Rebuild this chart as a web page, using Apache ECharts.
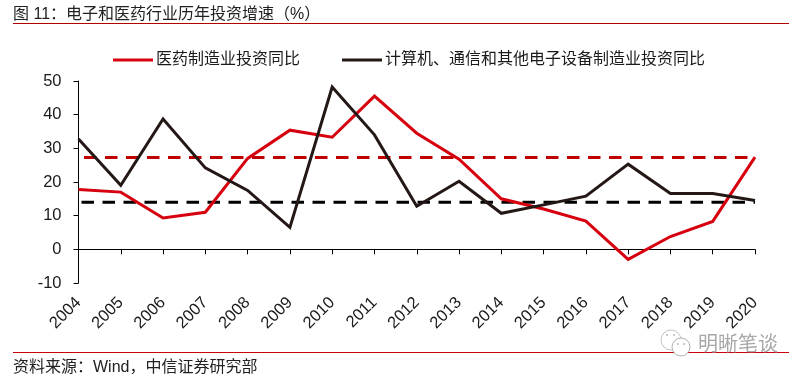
<!DOCTYPE html>
<html><head><meta charset="utf-8">
<style>html,body{margin:0;padding:0;background:#fff}#c{width:803px;height:379px}</style>
<script src="https://cdn.jsdelivr.net/npm/echarts@6/dist/echarts.min.js"></script>
</head><body><div id="c"></div>
<script>
const years=['2004','2005','2006','2007','2008','2009','2010','2011','2012','2013','2014','2015','2016','2017','2018','2019','2020'];
const pharma=[17.8,17,9.3,11,27,35.4,33.3,45.5,34.5,26.8,15,12,8.4,-3,3.8,8.3,27.4];
const electronics=[32.8,19,38.7,24.2,17.5,6.5,48.2,34,12.8,20.2,10.7,13.2,15.8,25.3,16.6,16.6,14.5];
const pharmaAvg=years.map(()=>27.3);
const electronicsAvg=years.map(()=>14);
const pharmaName='医药制造业投资同比';
const electronicsName='计算机、通信和其他电子设备制造业投资同比';
const titleText='图 11\uFF1A电子和医药行业历年投资增速\uFF08%\uFF09';
const sourceText='资料来源\uFF1AWind\uFF0C中信证券研究部';
const wmText='明晰笔谈';
const cjk='"Liberation Sans","Noto Sans CJK SC",sans-serif';
const chart=echarts.init(document.getElementById('c'),null,{renderer:'canvas'});
chart.setOption({
 animation:false,
 backgroundColor:'#fff',
 grid:{left:78.5,right:48,top:81,bottom:96,containLabel:false},
 legend:{top:47,left:108,itemGap:42,itemWidth:40,itemHeight:3,icon:'rect',
  textStyle:{fontFamily:cjk,fontSize:16,color:'#1a1a1a',padding:[0,0,0,-2]},
  data:[pharmaName,electronicsName]},
 xAxis:{type:'category',data:years,boundaryGap:false,
  axisLine:{onZero:true,lineStyle:{color:'#000',width:1}},
  axisTick:{show:true,length:5,inside:false,lineStyle:{color:'#000',width:1}},
  axisLabel:{rotate:45,margin:17,fontFamily:'"Liberation Sans",sans-serif',fontSize:16.5,color:'#1a1a1a',interval:0,hideOverlap:false}},
 yAxis:{type:'value',min:-10,max:50,interval:10,splitLine:{show:false},
  axisLine:{show:true,onZero:false,lineStyle:{color:'#000',width:1}},
  axisTick:{show:true,length:5,inside:false,lineStyle:{color:'#000',width:1}},
  axisLabel:{margin:17,fontFamily:'"Liberation Sans",sans-serif',fontSize:16.5,color:'#1a1a1a'}},
 series:[
  {name:'医药均值',type:'line',data:pharmaAvg,symbol:'none',silent:true,z:2,
   lineStyle:{color:'#c00000',width:3,type:[12.5,8.5],dashOffset:15.5}},
  {name:'电子均值',type:'line',data:electronicsAvg,symbol:'none',silent:true,z:2,
   lineStyle:{color:'#000',width:3,type:[12.5,8.5],dashOffset:18}},
  {name:pharmaName,type:'line',data:pharma,symbol:'none',z:3,itemStyle:{color:'#d7000f'},
   lineStyle:{color:'#d7000f',width:3,join:'miter'}},
  {name:electronicsName,type:'line',data:electronics,symbol:'none',z:4,itemStyle:{color:'#231815'},
   lineStyle:{color:'#231815',width:3,join:'miter'}}
 ],
 graphic:[
  {type:'text',left:13,top:7,style:{text:titleText,font:'16px '+cjk,fill:'#222'}},
  {type:'rect',shape:{x:13,y:23,width:776,height:1},style:{fill:'#b00000'}},
  {type:'rect',shape:{x:13,y:352,width:776,height:1},style:{fill:'#c8000a'}},
  {type:'text',left:13,top:360,style:{text:sourceText,font:'16px '+cjk,fill:'#222'}},
  {type:'circle',shape:{cx:671,cy:340,r:10},z:9,style:{fill:'#fff',stroke:'#c4c4c4',lineWidth:1}},
  {type:'circle',shape:{cx:681,cy:347,r:9},z:9,style:{fill:'#fff',stroke:'#b0b0b0',lineWidth:1}},
  {type:'circle',shape:{cx:667,cy:335,r:1},z:9,style:{fill:'#bbb'}},
  {type:'circle',shape:{cx:674,cy:335,r:1},z:9,style:{fill:'#bbb'}},
  {type:'circle',shape:{cx:678,cy:344,r:1},z:9,style:{fill:'#bbb'}},
  {type:'circle',shape:{cx:684,cy:344,r:1},z:9,style:{fill:'#bbb'}},
  {type:'text',left:698,top:333,z:9,style:{text:wmText,font:'20px "Noto Sans CJK SC",sans-serif',fill:'#a8a8a8'}}
 ]
});
</script></body></html>
